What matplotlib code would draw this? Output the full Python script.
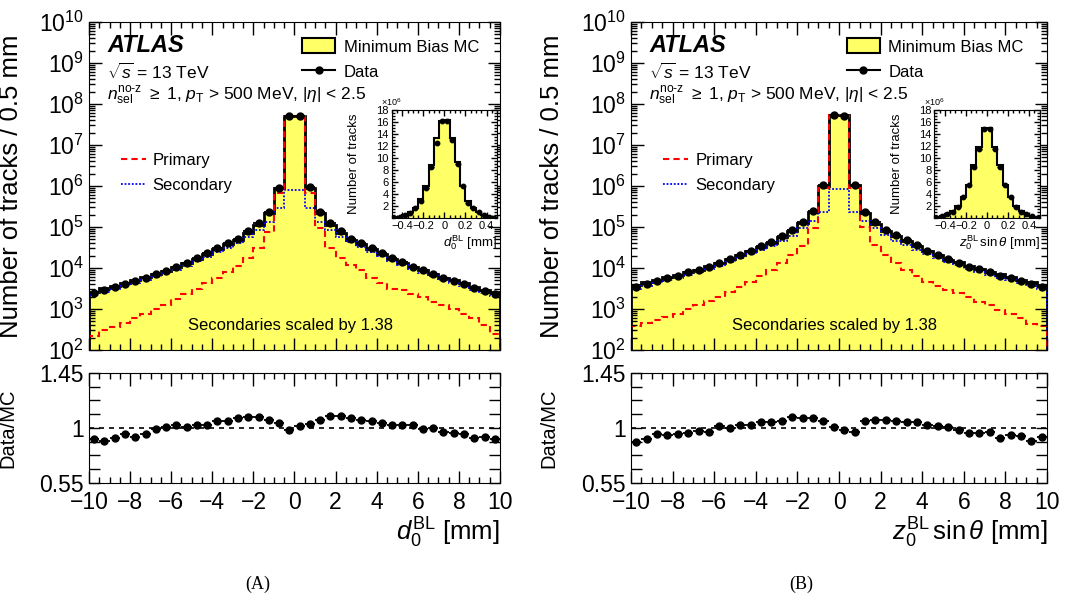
import numpy as np
import matplotlib
matplotlib.use('Agg')
import matplotlib.pyplot as plt
from matplotlib.lines import Line2D
from matplotlib.patches import Patch
from matplotlib.ticker import FixedLocator, MultipleLocator, LogLocator, NullFormatter

plt.rcParams['font.family'] = ['Liberation Sans', 'DejaVu Sans']
plt.rcParams['mathtext.fontset'] = 'custom'
plt.rcParams['mathtext.rm'] = 'Liberation Sans'
plt.rcParams['mathtext.it'] = 'Liberation Sans:italic'
plt.rcParams['mathtext.bf'] = 'Liberation Sans:bold'
plt.rcParams['mathtext.sf'] = 'Liberation Sans'

# binning: 40 bins of 0.5 mm, inset 20 bins of 0.05 mm
edges = np.linspace(-10, 10, 41)
centres = 0.5 * (edges[1:] + edges[:-1])
ins_edges = np.linspace(-0.5, 0.5, 21)
ins_centres = 0.5 * (ins_edges[1:] + ins_edges[:-1])

# ---- panel A : d0 ----
dataA = np.array([2.4e3, 2.9e3, 3.4e3, 4.1e3, 4.8e3, 5.8e3, 7.1e3, 8.5e3, 1.07e4, 1.35e4,
                  1.74e4, 2.29e4, 3.0e4, 4.0e4, 5.2e4, 7.9e4, 1.23e5, 2.3e5, 9.1e5, 5.0e7,
                  5.2e7, 9.5e5, 2.35e5, 1.23e5, 7.9e4, 5.2e4, 4.0e4, 3.0e4, 2.29e4, 1.74e4,
                  1.38e4, 1.07e4, 8.9e3, 7.1e3, 5.6e3, 4.8e3, 4.0e3, 3.2e3, 2.75e3, 2.3e3])
ratioA = np.array([0.913, 0.896, 0.918, 0.954, 0.926, 0.954, 0.992, 1.005, 1.022, 1.005,
                   1.022, 1.027, 1.055, 1.060, 1.082, 1.087, 1.090, 1.065, 1.038, 0.981,
                   1.014, 1.035, 1.068, 1.095, 1.095, 1.085, 1.063, 1.055, 1.038, 1.022,
                   1.027, 1.022, 0.992, 1.000, 0.965, 0.956, 0.948, 0.915, 0.926, 0.907])
primaryA = np.array([224, 309, 372, 468, 589, 759, 977, 1260, 1740, 2340,
                     3090, 4270, 5620, 8130, 1.12e4, 1.74e4, 3.02e4, 7.76e4, 6.8e5, 4.98e7,
                     5.05e7, 6.8e5, 9.3e4, 3.16e4, 1.74e4, 1.17e4, 8.9e3, 5.6e3, 4.3e3, 3.16e3,
                     2.9e3, 2.34e3, 1.95e3, 1.51e3, 1.26e3, 1.0e3, 776, 589, 407, 245])
secondaryA = np.array([2140, 2570, 3020, 3630, 4270, 5130, 6170, 7410, 9120, 1.15e4,
                       1.45e4, 1.86e4, 2.45e4, 3.16e4, 4.17e4, 5.62e4, 8.5e4, 1.32e5, 2.9e5, 7.9e5,
                       7.9e5, 2.9e5, 1.32e5, 8.5e4, 5.75e4, 4.27e4, 3.31e4, 2.51e4, 1.95e4, 1.51e4,
                       1.2e4, 9550, 7760, 6310, 5130, 4270, 3550, 2880, 2450, 2040])
insDataA = np.array([0.1, 0.28, 0.55, 0.94, 1.66, 2.93, 5.1, 8.6, 12.6, 16.1,
                     16.2, 13.1, 9.0, 5.3, 2.6, 1.66, 1.0, 0.55, 0.28, 0.11])
insMcA = np.array([0.12, 0.3, 0.6, 1.0, 1.7, 3.2, 5.4, 8.9, 13.4, 16.2,
                   16.4, 13.3, 9.3, 5.4, 2.8, 1.7, 1.0, 0.55, 0.3, 0.12])

# ---- panel B : z0 sin(theta) ----
dataB = np.array([3.5e3, 4.1e3, 4.9e3, 5.6e3, 6.5e3, 7.8e3, 8.9e3, 1.07e4, 1.35e4, 1.62e4,
                  2.09e4, 2.63e4, 3.47e4, 4.37e4, 6.0e4, 8.7e4, 1.35e5, 2.45e5, 1.05e6, 5.4e7,
                  5.25e7, 1.05e6, 2.35e5, 1.29e5, 8.7e4, 6.3e4, 4.7e4, 3.6e4, 2.63e4, 2.09e4,
                  1.62e4, 1.35e4, 1.07e4, 9.3e3, 7.8e3, 6.5e3, 5.6e3, 4.8e3, 4.0e3, 3.5e3])
ratioB = np.array([0.883, 0.913, 0.948, 0.945, 0.954, 0.959, 0.978, 0.970, 1.014, 1.000,
                   1.022, 1.027, 1.049, 1.052, 1.060, 1.087, 1.082, 1.082, 1.055, 1.011,
                   0.986, 0.965, 1.055, 1.068, 1.065, 1.060, 1.046, 1.049, 1.022, 1.014,
                   1.005, 0.981, 0.959, 0.959, 0.970, 0.918, 0.945, 0.937, 0.891, 0.926])
primaryB = np.array([389, 468, 537, 646, 776, 977, 1260, 1580, 2000, 2630,
                     3390, 4680, 6310, 8910, 1.29e4, 2.09e4, 3.47e4, 9.3e4, 8.9e5, 5.3e7,
                     5.2e7, 8.9e5, 1.02e5, 3.63e4, 2.09e4, 1.29e4, 8910, 6310, 4680, 3630,
                     2880, 2510, 1950, 1510, 1260, 955, 776, 589, 437, 389])
secondaryB = np.array([3160, 3720, 4370, 5010, 5750, 6920, 7940, 9330, 1.15e4, 1.38e4,
                       1.74e4, 2.14e4, 2.75e4, 3.39e4, 4.47e4, 6.03e4, 9.3e4, 1.41e5, 2.34e5, 8.5e5,
                       8.5e5, 2.34e5, 1.41e5, 9.3e4, 6.3e4, 4.68e4, 3.63e4, 2.82e4, 2.19e4, 1.74e4,
                       1.41e4, 1.17e4, 9330, 8130, 6920, 5750, 5010, 4270, 3630, 3160])
insDataB = np.array([0.11, 0.39, 0.72, 1.1, 1.94, 3.5, 5.5, 8.6, 11.6, 14.8,
                     14.8, 11.6, 8.6, 5.5, 3.5, 1.94, 1.1, 0.72, 0.39, 0.11])
insMcB = np.array([0.15, 0.4, 0.75, 1.15, 2.0, 3.6, 5.6, 8.8, 11.8, 15.0,
                   15.0, 11.8, 8.8, 5.6, 3.5, 2.0, 1.15, 0.72, 0.4, 0.15])

yellow = '#ffff66'
fig = plt.figure(figsize=(10.75, 5.97), dpi=100)


def style_ticks(ax, major=9, minor=4.5, size=16.5):
    ax.tick_params(which='both', direction='in', top=True, right=True, width=1)
    ax.tick_params(which='major', length=major, labelsize=size)
    ax.tick_params(which='minor', length=minor)


def panel(left, width, data, ratio, primary, secondary, insData, insMc, xlab, insXlab, tag, insLeft):
    mc = data / ratio

    # main histogram
    ax = fig.add_axes([left, 0.4137, width, 0.5494])
    ax.stairs(mc, edges, baseline=1, fill=True, color=yellow)
    ax.stairs(mc, edges, baseline=1, color='k', lw=2)
    ax.stairs(secondary, edges, baseline=1, color='blue', ls=(0, (1, 1)), lw=1.3)
    ax.stairs(primary, edges, baseline=1, color='red', ls=(0, (3, 2)), lw=1.5)
    ax.errorbar(centres, data, xerr=0.25, fmt='o', color='k', ms=5, lw=1.3)
    ax.set_yscale('log')
    ax.set_ylim(1e2, 1e10)
    ax.set_xlim(-10, 10)
    ax.yaxis.set_major_locator(LogLocator(base=10, numticks=20))
    ax.yaxis.set_minor_locator(LogLocator(base=10, subs=np.arange(2, 10), numticks=20))
    ax.yaxis.set_minor_formatter(NullFormatter())
    ax.xaxis.set_major_locator(MultipleLocator(2))
    ax.xaxis.set_minor_locator(MultipleLocator(0.5))
    ax.set_xticklabels([])
    style_ticks(ax)
    ax.set_ylabel('Number of tracks / 0.5 mm', fontsize=18.5)
    ax.yaxis.set_label_coords(-0.16, 0.5)

    ax.text(0.044, 0.927, 'ATLAS', transform=ax.transAxes, fontsize=17,
            fontweight='bold', fontstyle='italic', va='center')
    ax.text(0.044, 0.848, r'$\sqrt{s}$ = 13 TeV', transform=ax.transAxes, fontsize=12.5, va='center')
    ax.text(0.044, 0.775, r'$n_{\mathrm{sel}}^{\text{no-z}}$ $\geq$ 1, $p_{\mathrm{T}}$ > 500 MeV, $|\eta|$ < 2.5',
            transform=ax.transAxes, fontsize=12.5, va='center')
    ax.text(0.49, 0.075, 'Secondaries scaled by 1.38', transform=ax.transAxes,
            fontsize=12, ha='center', va='center')

    leg1 = ax.legend(handles=[Patch(facecolor=yellow, edgecolor='k', lw=1.5),
                              Line2D([], [], color='k', marker='o', ms=5, lw=1.5)],
                     labels=['Minimum Bias MC', 'Data'], loc='upper left',
                     bbox_to_anchor=(0.518, 0.95), frameon=False, fontsize=12,
                     handlelength=2.0, handleheight=1.0, handletextpad=0.5,
                     labelspacing=0.55, borderpad=0, borderaxespad=0)
    ax.add_artist(leg1)
    ax.legend(handles=[Line2D([], [], color='red', ls=(0, (3, 2)), lw=1.5),
                       Line2D([], [], color='blue', ls=(0, (1, 1)), lw=1.3)],
              labels=['Primary', 'Secondary'], loc='upper left',
              bbox_to_anchor=(0.078, 0.6), frameon=False, fontsize=12,
              handlelength=1.5, handletextpad=0.4, labelspacing=0.6,
              borderpad=0, borderaxespad=0)

    # inset
    ins = fig.add_axes([insLeft, 0.6343, 0.098, 0.1814])
    ins.stairs(insMc, ins_edges, baseline=0, fill=True, color=yellow)
    ins.stairs(insMc, ins_edges, baseline=0, color='k', lw=1.5)
    ins.errorbar(ins_centres, insData, xerr=0.025, fmt='o', color='k', ms=3.2, lw=1)
    ins.set_xlim(-0.5, 0.5)
    ins.set_ylim(0, 18)
    ins.yaxis.set_major_locator(FixedLocator(np.arange(2, 19, 2)))
    ins.yaxis.set_minor_locator(MultipleLocator(0.5))
    ins.xaxis.set_major_locator(FixedLocator([-0.4, -0.2, 0, 0.2, 0.4]))
    ins.xaxis.set_minor_locator(MultipleLocator(0.05))
    ins.set_xticklabels(['\u22120.4', '\u22120.2', '0', '0.2', '0.4'])
    style_ticks(ins, major=4, minor=2, size=8)
    ins.tick_params(axis='both', pad=2)
    ins.set_ylabel('Number of tracks', fontsize=9.5)
    ins.yaxis.set_label_coords(-0.3, 0.5)
    ins.set_xlabel(insXlab, fontsize=9.5, ha='right', va='top')
    ins.xaxis.set_label_coords(1.0, -0.14)
    ins.text(-0.1, 1.02, r'$\times10^{6}$', transform=ins.transAxes, fontsize=6.5, va='bottom')

    # ratio
    rx = fig.add_axes([left, 0.191, width, 0.1843])
    rx.axhline(1, color='k', ls=(0, (3, 3)), lw=1.2)
    rx.errorbar(centres, ratio, xerr=0.25, fmt='o', color='k', ms=5, lw=1.3)
    rx.set_xlim(-10, 10)
    rx.set_ylim(0.55, 1.45)
    rx.yaxis.set_major_locator(FixedLocator([0.55, 0.775, 1.0, 1.225, 1.45]))
    rx.yaxis.set_minor_locator(FixedLocator([0.6625, 0.8875, 1.1125, 1.3375]))
    rx.set_yticklabels(['0.55', '', '1', '', '1.45'])
    rx.xaxis.set_major_locator(MultipleLocator(2))
    rx.xaxis.set_minor_locator(MultipleLocator(0.5))
    style_ticks(rx)
    rx.tick_params(axis='y', which='both', length=8)
    rx.tick_params(axis='x', which='major', pad=6)
    rx.set_ylabel('Data/MC', fontsize=14.5)
    rx.yaxis.set_label_coords(-0.175, 0.5)
    rx.set_xlabel(xlab, fontsize=18.5, ha='right', va='top')
    rx.xaxis.set_label_coords(1.0, -0.3)

    fig.text(left + width * 0.41, 0.021, tag, fontsize=13, family=['Liberation Serif', 'DejaVu Serif'],
             ha='center', va='center')


panel(0.0828, 0.3823, dataA, ratioA, primaryA, secondaryA, insDataA, insMcA,
      r'$d_0^{\mathrm{BL}}$ [mm]', r'$d_0^{\mathrm{BL}}$ [mm]', '(A)', 0.3644)
panel(0.587, 0.387, dataB, ratioB, primaryB, secondaryB, insDataB, insMcB,
      r'$z_0^{\mathrm{BL}}\,\sin\theta$ [mm]', r'$z_0^{\mathrm{BL}}\,\sin\theta$ [mm]', '(B)', 0.8691)

fig.savefig('out.png', dpi=100)
